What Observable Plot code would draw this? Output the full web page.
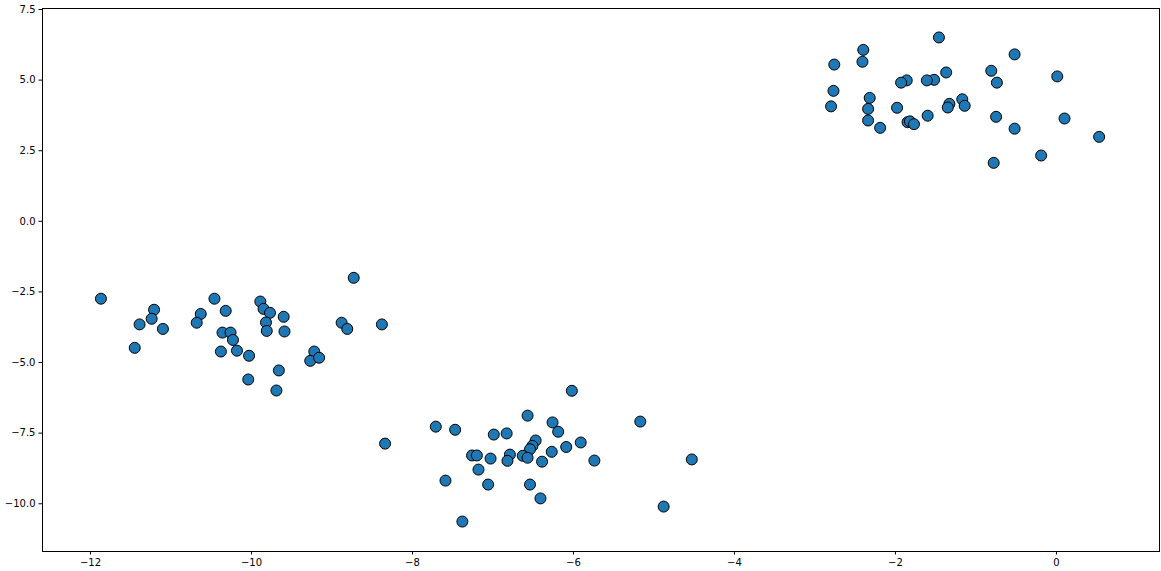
<!DOCTYPE html>
<html>
<head>
<meta charset="utf-8">
<script src="https://cdn.jsdelivr.net/npm/d3@7"></script>
<script src="https://cdn.jsdelivr.net/npm/@observablehq/plot@0.6"></script>
<style>
  html, body { margin: 0; padding: 0; background: #fff; }
</style>
</head>
<body>
<div id="chart"></div>
<script>
const blob1X = [-11.87, -11.21, -11.24, -11.39, -11.10, -11.45, -10.46, -10.63, -10.68, -10.32, -10.36, -10.26, -10.23, -10.38, -10.18, -10.03, -10.04, -9.89, -9.85, -9.77, -9.82, -9.81, -9.60, -9.59, -9.66, -9.69, -9.22, -9.27, -9.16, -8.73, -8.88, -8.81, -8.38, -8.34];
const blob1Y = [-2.74, -3.13, -3.45, -3.65, -3.81, -4.48, -2.74, -3.28, -3.59, -3.17, -3.94, -3.94, -4.20, -4.61, -4.58, -4.76, -5.60, -2.84, -3.10, -3.24, -3.58, -3.88, -3.38, -3.90, -5.28, -5.99, -4.61, -4.94, -4.83, -2.00, -3.59, -3.81, -3.65, -7.87];

const blob2X = [-7.71, -7.47, -6.99, -6.83, -6.57, -6.02, -6.26, -6.19, -6.47, -6.51, -6.54, -6.27, -6.09, -5.91, -5.74, -5.17, -4.53, -4.88, -7.26, -7.20, -7.03, -7.18, -7.59, -7.06, -7.38, -6.79, -6.82, -6.63, -6.57, -6.39, -6.54, -6.41];
const blob2Y = [-7.27, -7.38, -7.55, -7.51, -6.88, -6.00, -7.12, -7.45, -7.76, -7.95, -8.07, -8.16, -7.99, -7.83, -8.47, -7.09, -8.43, -10.10, -8.29, -8.29, -8.40, -8.79, -9.18, -9.32, -10.63, -8.26, -8.48, -8.30, -8.37, -8.51, -9.32, -9.81];

const blob3X = [-1.46, -2.40, -2.41, -2.76, -0.52, -0.81, 0.01, -0.74, -1.37, -1.52, -1.61, -1.86, -1.93, -2.77, -2.32, -2.80, -2.34, -1.98, -1.33, -1.35, -1.17, -1.14, -1.60, -2.34, -2.19, -1.85, -1.82, -1.77, -0.75, -0.52, 0.10, 0.53, -0.19, -0.78];
const blob3Y = [6.51, 6.07, 5.65, 5.55, 5.91, 5.33, 5.13, 4.91, 5.27, 5.01, 4.99, 4.99, 4.91, 4.62, 4.37, 4.07, 3.98, 4.02, 4.16, 4.03, 4.32, 4.09, 3.74, 3.57, 3.31, 3.51, 3.54, 3.44, 3.70, 3.28, 3.64, 2.99, 2.33, 2.07];

const xTicks = [-12, -10, -8, -6, -4, -2, 0];
const yTicks = [-10, -7.5, -5, -2.5, 0, 2.5, 5, 7.5];

const points = [];
[[blob1X, blob1Y], [blob2X, blob2Y], [blob3X, blob3Y]].forEach(([xs, ys]) => {
  xs.forEach((x, i) => points.push({x, y: ys[i]}));
});

const chart = Plot.plot({
  width: 1161,
  height: 571,
  marginLeft: 42,
  marginRight: 2,
  marginTop: 8,
  marginBottom: 20,
  style: {fontFamily: "DejaVu Sans", fontSize: "10px", color: "black", background: "white"},
  x: {domain: [-12.596, 1.28], ticks: xTicks, tickFormat: d3.format("d"), label: null},
  y: {domain: [-11.69, 7.535], ticks: yTicks, tickFormat: d3.format(".1f"), label: null},
  marks: [
    Plot.axisX({ticks: xTicks, tickFormat: d3.format("d"), tickSize: 3.5, tickPadding: 3.5, label: null}),
    Plot.axisY({ticks: yTicks, tickFormat: d3.format(".1f"), tickSize: 3.5, tickPadding: 3.5, label: null}),
    Plot.dot(points, {x: "x", y: "y", r: 5.5, fill: "#1f77b4", stroke: "black", strokeWidth: 1}),
    Plot.frame({stroke: "black", strokeWidth: 1})
  ]
});
document.getElementById("chart").appendChild(chart);
</script>
</body>
</html>
